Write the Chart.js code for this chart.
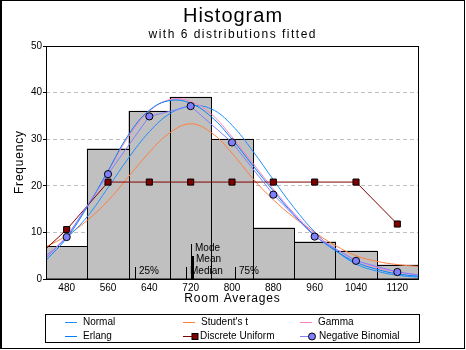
<!DOCTYPE html>
<html>
<head>
<meta charset="utf-8">
<script src="https://cdn.jsdelivr.net/npm/chart.js@4.4.1/dist/chart.umd.min.js"></script>
<style>
  html, body { margin: 0; padding: 0; background: #fff; }
  canvas { display: block; }
</style>
</head>
<body>
<canvas id="chart" width="466" height="350"></canvas>
<script>
// histogram: bin centres and counts
const binCenters = [480, 560, 640, 720, 800, 880, 960, 1040, 1120]
const binCounts = [7, 28, 36, 39, 30, 11, 8, 6, 3]
const xTicks = [480, 560, 640, 720, 800, 880, 960, 1040, 1120]

// continuous fits
const curveX = [440, 480, 520, 560, 600, 640, 680, 720, 760, 800, 840, 880, 920, 960, 1000, 1040, 1080, 1120, 1160]
const normalY = [5.0, 8.8, 13.4, 19.6, 26.0, 31.6, 35.5, 37.1, 36.5, 33.0, 27.5, 21.3, 15.3, 10.1, 6.2, 3.2, 1.7, 0.8, 0.4]
const erlangY = [4.0, 8.8, 15.5, 23.2, 31.0, 36.2, 38.3, 37.7, 34.8, 30.0, 24.4, 18.9, 13.8, 9.4, 6.1, 3.6, 2.1, 1.1, 0.6]
const gammaY = [4.8, 9.2, 15.6, 23.0, 30.6, 36.0, 38.5, 38.1, 35.4, 30.5, 24.9, 19.3, 14.1, 9.8, 6.5, 4.1, 2.5, 1.5, 0.9]
const studentY = [6.9, 9.3, 12.6, 16.8, 22.0, 27.2, 31.4, 33.3, 31.4, 27.0, 21.6, 17.0, 13.2, 10.0, 7.2, 5.0, 3.8, 3.1, 2.7]

// discrete fits, one value per bin, plus where the line runs off the plot
const uniformY = [10.6, 20.8, 20.8, 20.8, 20.8, 20.8, 20.8, 20.8, 11.8]
const uniformLeftEdge = 6.5
const negBinY = [9.0, 22.5, 34.9, 37.1, 29.3, 18.1, 9.1, 3.9, 1.5]
const negBinEdges = [4.5, 0.9]

// summary statistics marked at the bottom of the plot
const statNames = ['25%', 'Median', 'Mean', 'Mode', '75%']
const statValues = [612, 710, 723, 720, 805]
const statHeights = [2.5, 2.5, 5, 7.5, 2.5]

const fontFamily = "'Liberation Sans', Arial, sans-serif"
Chart.defaults.font.family = fontFamily
Chart.defaults.color = '#000'

function curvePoints(ys) {
    return curveX.map((x, i) => ({x: x, y: ys[i]}))
}

function binPoints(ys) {
    return binCenters.map((x, i) => ({x: x, y: ys[i]}))
}

function spacedText(ctx, text, x, y, spacing) {
    ctx.letterSpacing = spacing + 'px'
    let w = ctx.measureText(text).width
    ctx.textAlign = 'left'
    ctx.fillText(text, x - (w - spacing) / 2, y)
    ctx.letterSpacing = '0px'
}

// rows of the legend box under the chart
const legendRows = [['Normal', "Student's t", 'Gamma'], ['Erlang', 'Discrete Uniform', 'Negative Binomial']]
const legendCols = [65, 183, 300]
const legendRowY = [322, 336]

const decorations = {
    id: 'decorations',
    afterDatasetDraw(chart, args) {
        // crisp 1px outlines round the histogram bars, shared edges drawn once
        if (args.meta.type !== 'bar') return
        let ctx = chart.ctx
        ctx.save()
        ctx.strokeStyle = '#000'
        ctx.lineWidth = 1
        args.meta.data.forEach(bar => {
            let p = bar.getProps(['x', 'y', 'base', 'width'], true)
            let l = Math.round(p.x - p.width / 2) + 0.5
            let r = Math.round(p.x + p.width / 2) + 0.5
            let t = Math.round(p.y) + 0.5
            ctx.strokeRect(l, t, r - l, Math.round(p.base) - t)
        })
        ctx.restore()
    },
    afterDatasetsDraw(chart) {
        let ctx = chart.ctx
        let a = chart.chartArea
        let xs = chart.scales.x
        let ys = chart.scales.y
        ctx.save()
        ctx.fillStyle = '#000'
        ctx.font = '10px ' + fontFamily
        ctx.textBaseline = 'middle'
        ctx.textAlign = 'left'
        statNames.forEach((name, i) => {
            let px = xs.getPixelForValue(statValues[i])
            let top = ys.getPixelForValue(statHeights[i])
            ctx.fillText(name, Math.round(px) + 4, top + 4)
        })
        statNames.forEach((name, i) => {
            let px = Math.round(xs.getPixelForValue(statValues[i]))
            let top = Math.round(ys.getPixelForValue(statHeights[i]))
            let w = name === 'Mean' ? 2 : 1
            ctx.fillRect(px, top, w, a.bottom - top)
        })
        ctx.strokeStyle = '#000'
        ctx.lineWidth = 1
        ctx.strokeRect(a.left + 0.5, a.top + 0.5, a.right - a.left, a.bottom - a.top)
        ctx.restore()
    },
    afterDraw(chart) {
        let ctx = chart.ctx
        let a = chart.chartArea
        ctx.save()
        ctx.fillStyle = '#000'
        ctx.textBaseline = 'alphabetic'

        ctx.font = '20px ' + fontFamily
        spacedText(ctx, 'Histogram', 232.5, 22, 1)
        ctx.font = '12px ' + fontFamily
        spacedText(ctx, 'with 6 distributions fitted', 232, 38, 1.5)

        ctx.font = '12px ' + fontFamily
        spacedText(ctx, 'Room Averages', (a.left + a.right) / 2, 302, 0.8)
        ctx.save()
        ctx.translate(22.5, (a.top + a.bottom) / 2)
        ctx.rotate(-Math.PI / 2)
        spacedText(ctx, 'Frequency', 0, 0, 0.8)
        ctx.restore()

        // legend
        ctx.lineWidth = 1
        ctx.strokeStyle = '#000'
        ctx.strokeRect(45.5, 314.5, 374, 28)
        ctx.font = '10px ' + fontFamily
        ctx.textBaseline = 'middle'
        ctx.textAlign = 'left'
        legendRows.forEach((row, r) => {
            row.forEach((label, c) => {
                let ds = chart.data.datasets.find(d => d.label === label)
                let x0 = legendCols[c]
                let y = legendRowY[r] + 0.5
                ctx.strokeStyle = ds.borderColor
                ctx.beginPath()
                ctx.moveTo(x0, y)
                ctx.lineTo(x0 + 12, y)
                ctx.stroke()
                let textX = x0 + 18
                if (ds.pointStyle === 'rect') {
                    ctx.fillStyle = ds.pointBackgroundColor
                    ctx.fillRect(x0 + 9, y - 3, 6, 6)
                    ctx.strokeStyle = '#000'
                    ctx.strokeRect(x0 + 9, y - 3, 6, 6)
                    textX = x0 + 17
                } else if (ds.pointStyle === 'circle') {
                    ctx.fillStyle = ds.pointBackgroundColor
                    ctx.beginPath()
                    ctx.arc(x0 + 12, y, 3.5, 0, Math.PI * 2)
                    ctx.fill()
                    ctx.strokeStyle = '#000'
                    ctx.stroke()
                    textX = x0 + 19
                }
                ctx.fillStyle = '#000'
                ctx.fillText(label, textX, y)
            })
        })

        // outer frame of the picture
        ctx.fillRect(0, 0, 2, 349)
        ctx.fillRect(0, 0, 465, 1)
        ctx.fillRect(464, 0, 1, 349)
        ctx.fillRect(0, 348, 465, 1)
        ctx.restore()
    }
}

let uniformData = [{x: 440, y: uniformLeftEdge}].concat(binPoints(uniformY))
let negBinData = [{x: 440, y: negBinEdges[0]}].concat(binPoints(negBinY), [{x: 1160, y: negBinEdges[1]}])

new Chart(document.getElementById('chart'), {
    type: 'line',
    data: {
        datasets: [
            {
                type: 'bar',
                label: 'Histogram',
                data: binPoints(binCounts),
                backgroundColor: '#c0c0c0',
                borderWidth: 0,
                barPercentage: 1,
                categoryPercentage: 1,
                inflateAmount: 0.5,
                order: 10
            },
            {label: 'Normal', data: curvePoints(normalY), borderColor: '#1e8fff', borderWidth: 1, pointRadius: 0, tension: 0.4, order: 4},
            {label: "Student's t", data: curvePoints(studentY), borderColor: '#ff7f40', borderWidth: 1, pointRadius: 0, tension: 0.4, order: 5},
            {label: 'Gamma', data: curvePoints(gammaY), borderColor: '#ff80c0', borderWidth: 1, pointRadius: 0, tension: 0.4, order: 3},
            {label: 'Erlang', data: curvePoints(erlangY), borderColor: '#0080ff', borderWidth: 1, pointRadius: 0, tension: 0.4, order: 2},
            {
                label: 'Discrete Uniform',
                data: uniformData,
                borderColor: '#800000',
                borderWidth: 1,
                tension: 0,
                pointStyle: 'rect',
                pointRadius: ctx => ctx.dataIndex === 0 ? 0 : 4.3,
                pointBackgroundColor: '#800000',
                pointBorderColor: '#000',
                pointBorderWidth: 1,
                order: 1
            },
            {
                label: 'Negative Binomial',
                data: negBinData,
                borderColor: '#8080ff',
                borderWidth: 1,
                tension: 0,
                pointStyle: 'circle',
                pointRadius: ctx => (ctx.dataIndex === 0 || ctx.dataIndex === negBinData.length - 1) ? 0 : 3.6,
                pointBackgroundColor: '#8080ff',
                pointBorderColor: '#000',
                pointBorderWidth: 1,
                order: 0
            }
        ]
    },
    options: {
        responsive: false,
        animation: false,
        events: [],
        layout: {padding: {left: 0, right: 48, top: 46, bottom: 41}},
        plugins: {
            legend: {display: false},
            title: {display: false},
            tooltip: {enabled: false}
        },
        scales: {
            x: {
                type: 'linear',
                min: 440,
                max: 1160,
                offset: false,
                afterFit: s => { s.height = 30 },
                afterBuildTicks: s => { s.ticks = xTicks.map(v => ({value: v})) },
                grid: {display: false, drawTicks: false, offset: false},
                border: {display: false},
                ticks: {
                    autoSkip: false,
                    maxRotation: 0,
                    padding: 3,
                    font: {size: 10},
                    callback: v => String(v)
                }
            },
            y: {
                min: 0,
                max: 50,
                afterFit: s => { s.width = 46 },
                grid: {color: '#c0c0c0', tickColor: '#000', tickLength: 3, tickBorderDash: []},
                border: {display: false, dash: [4, 3]},
                ticks: {stepSize: 10, padding: 1, font: {size: 10}}
            }
        }
    },
    plugins: [decorations]
})
</script>
</body>
</html>
